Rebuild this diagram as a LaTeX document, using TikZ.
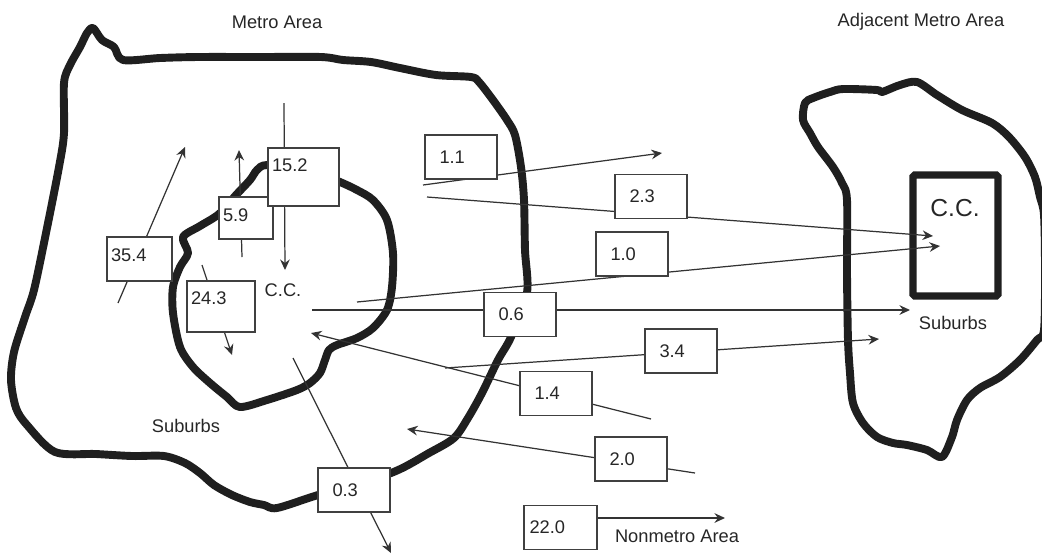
\documentclass[tikz,border=0pt]{standalone}
\usepackage{fontspec}
\setmainfont{Liberation Sans}
\usepackage{tikz}
\usetikzlibrary{arrows.meta, positioning, calc}

\begin{document}
\begin{tikzpicture}[x=0.02cm, y=-0.02cm,
  every node/.style={font=\fontsize{10.4}{12}\selectfont, text=black!85},
  border/.style={line width=4.5pt, draw=black!88, line join=round},
  flow/.style={line width=0.7pt, draw=black!80, -{Stealth[length=6pt,width=5.5pt,inset=2pt]}},
  numbox/.style={draw=black!75, fill=white, line width=0.8pt, align=left, inner ysep=0pt,
    inner xsep=0.29cm, text width=0.86cm, minimum height=0.88cm},
  tightbox/.style={numbox, inner xsep=0.08cm}]
\useasboundingbox (0,0) rectangle (1042,559);
% Metro area
\draw[border] plot[smooth cycle, tension=0.5] coordinates {
  (93,28) (102,40) (114,47) (123,60) (160,58) (198,57) (260,57) (321,57) (343,60)
  (371,62) (400,68) (436,75) (471,77) (479,82) (493,100) (507,120) (515,135) (521,167)
  (524,200) (525,250) (527,293) (511,337) (498,360) (482,393) (468,418) (454,438)
  (429,453) (391,473) (318,495) (277,508) (264,505) (250,502) (232,495) (214,485)
  (200,473) (185,463) (164,456) (132,456) (96,454) (55,452) (27,425) (16,408) (11,380)
  (14,352) (25,317) (34,290) (46,233) (59,167) (64,133) (64,83) (70,65) (80,47) (87,33)};
% Central city
\draw[border] plot[smooth cycle, tension=0.5] coordinates {
  (267,165) (257,170) (250,180) (236,195) (219,214) (200,226) (183,237) (188,253)
  (180,267) (173,287) (173,313) (180,347) (193,367) (210,383) (227,397) (240,407)
  (267,400) (297,390) (310,383) (320,373) (325,360) (329,350) (337,345) (357,338)
  (373,328) (387,310) (392,287) (393,253) (387,220) (373,200) (357,190) (340,182) (305,168)};
% Adjacent metro area
\draw[border] plot[smooth cycle, tension=0.5] coordinates {
  (805,103) (813,98) (830,92) (843,89) (877,90) (882,92) (900,85) (917,82) (937,95)
  (962,110) (992,123) (1009,137) (1025,157) (1035,177) (1040,197) (1044,215) (1045,270)
  (1044,330) (1037,340) (1020,360) (1000,377) (980,388) (967,400) (957,420) (952,437)
  (942,457) (927,450) (907,445) (893,443) (877,437) (863,423) (853,403) (850,373)
  (848,340) (847,273) (847,200) (842,183) (833,167) (818,147) (810,133) (803,120)};
\node[draw=black!88, line width=4.2pt, rounded corners=1pt, minimum width=1.7cm,
  minimum height=2.42cm] (ccbox) at (955.5,235.5) {};

% Area labels
\node (metro) at (277,22) {Metro Area};
\node (adjmetro) at (921,22) {Adjacent Metro Area};
\node (subl) at (186,426) {Suburbs};
\node (ccl) at (283,290) {C.C.};
\node[font=\fontsize{14}{16}\selectfont] (ccr) at (955,208) {C.C.};
\node (subr) at (953,323) {Suburbs};
\node (nonmetro) at (677,536) {Nonmetro Area};

% Flow ends
\coordinate (s354) at (118,303); \coordinate (e354) at (185,147);
\coordinate (s59) at (242,257);  \coordinate (e59) at (239,150);
\coordinate (s152) at (284,103); \coordinate (e152) at (285,270);
\coordinate (s243) at (202,265); \coordinate (e243) at (232,355);
\coordinate (s11) at (423,185);  \coordinate (e11) at (662,153);
\coordinate (s23) at (427,197);  \coordinate (e23) at (933,236);
\coordinate (s10) at (357,302);  \coordinate (e10) at (940,246);
\coordinate (s06) at (312,310);  \coordinate (e06) at (910,310);
\coordinate (s34) at (445,368);  \coordinate (e34) at (879,339);
\coordinate (s14) at (651,419);  \coordinate (e14) at (311,333);
\coordinate (s20) at (695,473);  \coordinate (e20) at (407,429);
\coordinate (s03) at (293,358);  \coordinate (e03) at (391,553);
\coordinate (e220) at (725,518);

\foreach \f in {354,59,152,243,11,23,10,06,34,14,20,03}
  \draw[flow] (s\f) -- (e\f);

% Flow values
\node[tightbox, text width=1.14cm, text depth=4.5pt] (b354) at (139.5,259) {35.4};
\node[tightbox, text width=0.92cm, minimum height=0.84cm, text depth=3.4pt] (b59) at (246,218) {5.9};
\node[tightbox, text width=1.26cm, minimum height=1.16cm, text depth=13.6pt] (b152) at (303.5,177) {15.2};
\node[tightbox, text width=1.2cm, minimum height=1.02cm, text depth=10pt] (b243) at (221,306.5) {24.3};
\node[numbox] (b11) at (461,157) {1.1};
\node[numbox] (b23) at (651,196.5) {2.3};
\node[numbox] (b10) at (632,254) {1.0};
\node[numbox] (b06) at (520,314.5) {0.6};
\node[numbox] (b34) at (681,351) {3.4};
\node[numbox] (b14) at (556,393.5) {1.4};
\node[numbox] (b20) at (631,459) {2.0};
\node[numbox] (b03) at (354,490) {0.3};
\node[tightbox, inner xsep=0.11cm, text width=1.24cm] (b220) at (560.5,527.5) {22.0};
\draw[flow] (b220.east |- e220) -- (e220);
\end{tikzpicture}
\end{document}
